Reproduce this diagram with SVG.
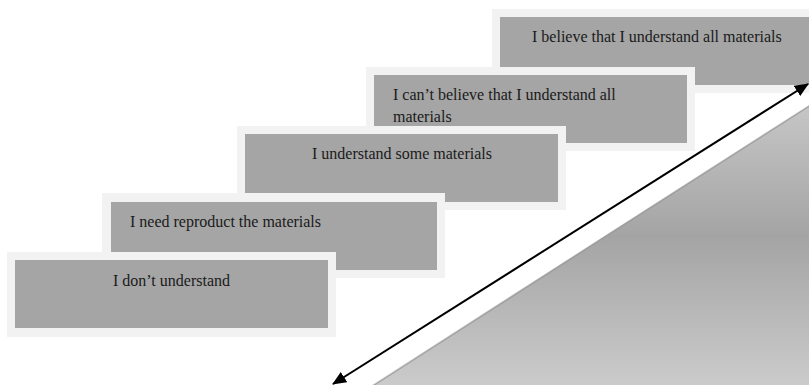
<svg xmlns="http://www.w3.org/2000/svg" width="809" height="385" viewBox="0 0 809 385">
<style>
.frame{fill:#f2f2f2}
.box{fill:#a5a5a5}
.t{fill:#1a1a1a}
.c{text-anchor:middle}
</style>
<defs>
<linearGradient id="g" x1="0" y1="105" x2="0" y2="385" gradientUnits="userSpaceOnUse">
<stop offset="0" stop-color="#c6c6c6"/>
<stop offset="0.47" stop-color="#a4a4a4"/>
<stop offset="1" stop-color="#cbcbcb"/>
</linearGradient>
<marker id="ah" viewBox="0 0 14 12" refX="13" refY="6" markerWidth="14" markerHeight="12" markerUnits="userSpaceOnUse" orient="auto-start-reverse">
<path d="M0,0 L14,6 L0,12 Z" fill="#000"/>
</marker>
</defs>
<polygon points="372,385 809,105 809,385" fill="url(#g)"/>
<line x1="373" y1="386" x2="809" y2="106.5" stroke="#9a9a9a" stroke-width="1"/>
<g font-family="'Liberation Serif', 'Times New Roman', 'DejaVu Serif', serif" font-size="16">
<g id="step5">
<rect class="frame" x="492" y="9" width="330" height="84"/>
<rect class="box" x="500" y="17" width="320" height="68"/>
<text class="t" x="532" y="42">I believe that I understand all materials</text>
</g>
<g id="step4">
<rect class="frame" x="366" y="67" width="329" height="84"/>
<rect class="box" x="374" y="75" width="313" height="68"/>
<text class="t" x="393" y="100">I can’t believe that I understand all</text>
<text class="t" x="393" y="122">materials</text>
</g>
<g id="step3">
<rect class="frame" x="237" y="126" width="329" height="84"/>
<rect class="box" x="245" y="134" width="313" height="68"/>
<text class="t c" x="402" y="159">I understand some materials</text>
</g>
<g id="step2">
<rect class="frame" x="102" y="193" width="343" height="85"/>
<rect class="box" x="111" y="202" width="326" height="68"/>
<text class="t" x="130" y="227">I need reproduct the materials</text>
</g>
<g id="step1">
<rect class="frame" x="7" y="252" width="329" height="85"/>
<rect class="box" x="15" y="260" width="313" height="68"/>
<text class="t c" x="171.5" y="286">I don’t understand</text>
</g>
</g>
<g id="connectors">
<line x1="808" y1="84" x2="333" y2="384" stroke="#000" stroke-width="2" marker-start="url(#ah)" marker-end="url(#ah)"/>
</g>
</svg>
